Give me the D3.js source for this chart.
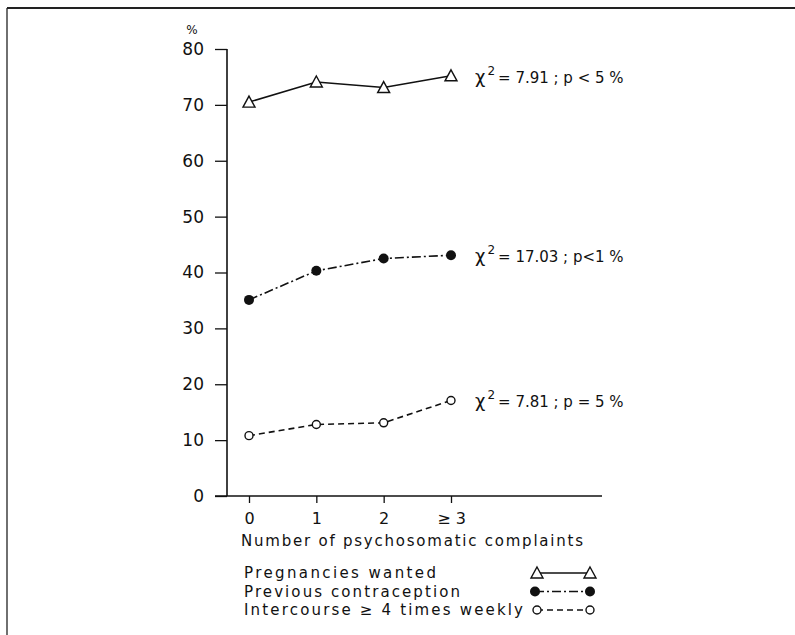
<!DOCTYPE html>
<html>
  <head>
    <style type="text/css">
      body { margin: 0; background: #fff; }
      text {
        font-family: "DejaVu Sans", "Liberation Sans", sans-serif;
        fill: #111;
      }
    </style>
  </head>
  <body>
    <div id="canvas"></div>

    <script type="text/javascript" src="https://cdn.jsdelivr.net/npm/d3@7/dist/d3.min.js"></script>
    <script type="text/javascript">
      (function() {

      // values
      var categories = ["0", "1", "2", "\u2265 3"];
      var wanted = [70.5, 74.1, 73.1, 75.2];
      var contraception = [35.1, 40.3, 42.5, 43.1];
      var intercourse = [10.8, 12.8, 13.1, 17.1];
      var yTicks = [0, 10, 20, 30, 40, 50, 60, 70, 80];
      var chiValues = ["= 7.91 ; p < 5 %", "= 17.03 ; p<1 %", "= 7.81 ; p = 5 %"];
      var legendLabels = ["Pregnancies  wanted", "Previous  contraception", "Intercourse \u2265 4 times  weekly"];

      var width = 795, height = 635;
      var axisX = 227, axisY = 496;

      var svg = d3.select('#canvas').append('svg')
                  .attr('width', width)
                  .attr('height', height);

      // scanned frame (left and top edge only)
      svg.append('line').attr('x1', 7).attr('y1', 8).attr('x2', 7).attr('y2', height)
         .attr('stroke', '#222').attr('stroke-width', 1.3);
      svg.append('line').attr('x1', 7).attr('y1', 8).attr('x2', width).attr('y2', 8)
         .attr('stroke', '#222').attr('stroke-width', 2);

      var x = d3.scalePoint().domain(categories).range([249, 451]);
      var y = d3.scaleLinear().domain([0, 80]).range([axisY, 49]);

      // y axis
      var yAxis = svg.append('g')
        .attr('transform', 'translate(' + axisX + ',0)')
        .call(d3.axisLeft(y).tickValues(yTicks).tickSize(12).tickPadding(11));
      yAxis.select('.domain').attr('stroke', '#111').attr('stroke-width', 1.6).attr('d', 'M0,' + y(80) + 'V' + axisY);
      yAxis.selectAll('.tick line').attr('stroke', '#111').attr('stroke-width', 1.3);
      yAxis.selectAll('.tick text').attr('font-size', 17).attr('fill', '#111')
           .attr('font-family', '"DejaVu Sans", sans-serif');

      // x axis
      var xAxis = svg.append('g')
        .attr('transform', 'translate(0,' + axisY + ')')
        .call(d3.axisBottom(x).tickSize(7).tickPadding(10));
      xAxis.select('.domain').attr('stroke', '#111').attr('stroke-width', 1.6).attr('d', 'M' + (axisX - 12) + ',0H602');
      xAxis.selectAll('.tick line').attr('stroke', '#111').attr('stroke-width', 1.3);
      xAxis.selectAll('.tick text').attr('font-size', 16).attr('fill', '#111')
           .attr('font-family', '"DejaVu Sans", sans-serif');

      svg.append('text').attr('x', 192).attr('y', 34)
         .attr('text-anchor', 'middle').attr('font-size', 12).text('%');

      svg.append('text').attr('x', 241).attr('y', 546)
         .attr('font-size', 15).attr('textLength', 342).attr('lengthAdjust', 'spacing')
         .text('Number of psychosomatic complaints');

      var series = [
        { values: wanted, dash: null, marker: 'triangle' },
        { values: contraception, dash: '9,3,2,3', marker: 'filled' },
        { values: intercourse, dash: '6,4', marker: 'open' }
      ];

      var line = d3.line()
        .x(function (d, i) { return x(categories[i]); })
        .y(function (d) { return y(d); });

      var drawMarker = function (g, kind, cx, cy) {
        if (kind === 'triangle') {
          g.append('path')
           .attr('d', 'M' + cx + ',' + (cy - 6) + 'L' + (cx + 6) + ',' + (cy + 5) + 'L' + (cx - 6) + ',' + (cy + 5) + 'Z')
           .attr('fill', '#fff').attr('stroke', '#111').attr('stroke-width', 1.4);
        } else if (kind === 'filled') {
          g.append('circle').attr('cx', cx).attr('cy', cy).attr('r', 5).attr('fill', '#111');
        } else {
          g.append('circle').attr('cx', cx).attr('cy', cy).attr('r', 4)
           .attr('fill', '#fff').attr('stroke', '#111').attr('stroke-width', 1.4);
        }
      };

      series.forEach(function (s, k) {
        var g = svg.append('g');
        g.append('path').datum(s.values)
         .attr('d', line)
         .attr('fill', 'none').attr('stroke', '#111').attr('stroke-width', 1.6)
         .attr('stroke-dasharray', s.dash);
        s.values.forEach(function (v, i) {
          drawMarker(g, s.marker, x(categories[i]), y(v));
        });

        // chi-square note right of the last point
        var last = s.values[s.values.length - 1];
        var t = svg.append('text')
          .attr('x', x(categories[3]) + 24)
          .attr('y', y(last) + 7);
        t.append('tspan').attr('font-size', 18).text('\u03c7');
        t.append('tspan').attr('font-size', 12).attr('dx', 2).attr('dy', -8).text('2');
        t.append('tspan').attr('font-size', 15).attr('dx', 3).attr('dy', 8).text(chiValues[k]);

        // legend row
        var ly = 573 + k * 18.5;
        svg.append('text').attr('x', 244).attr('y', ly + 5)
           .attr('font-size', 15)
           .attr('textLength', [192, 216, 279][k]).attr('lengthAdjust', 'spacing')
           .text(legendLabels[k]);
        var x1 = [537, 535, 537][k], x2 = 590;
        svg.append('line').attr('x1', x1).attr('x2', x2).attr('y1', ly).attr('y2', ly)
           .attr('stroke', '#111').attr('stroke-width', 1.5)
           .attr('stroke-dasharray', s.dash);
        drawMarker(svg, s.marker, x1, ly);
        drawMarker(svg, s.marker, x2, ly);
      });

      })();
    </script>
  </body>
</html>
